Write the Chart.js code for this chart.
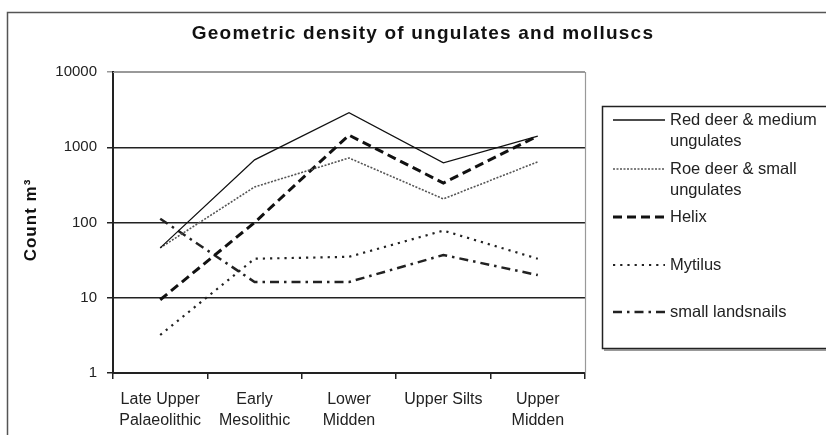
<!DOCTYPE html>
<html>
<head>
<meta charset="utf-8">
<script src="https://cdn.jsdelivr.net/npm/chart.js@4.4.1/dist/chart.umd.min.js"></script>
<style>
  html, body { margin: 0; padding: 0; background: #fff; }
  #wrap { width: 826px; height: 435px; position: relative; }
</style>
</head>
<body>
<div id="wrap"><canvas id="chart" width="826" height="435"></canvas></div>
<script>
// Data (log scale counts per m3)
const categories = [
  ["Late Upper", "Palaeolithic"],
  ["Early", "Mesolithic"],
  ["Lower", "Midden"],
  ["Upper Silts"],
  ["Upper", "Midden"]
];
const redDeer = [46, 680, 2880, 620, 1410];
const roeDeer = [46, 297, 720, 206, 640];
const helix = [9.4, 100, 1450, 335, 1410];
const mytilus = [3.2, 33, 35, 78, 33];
const landsnails = [112, 16.2, 16.2, 37, 20];
const yTicks = [1, 10, 100, 1000, 10000];

const seriesNames = [
  ["Red deer & medium", "ungulates"],
  ["Roe deer & small", "ungulates"],
  ["Helix"],
  ["Mytilus"],
  ["small landsnails"]
];
const legendY = [120, 169, 217, 265, 312];

const FONT = "'Liberation Sans', Arial, sans-serif";

// frame, title, y title, plot border and legend
const decorations = {
  id: "decorations",
  beforeDraw(chart) {
    const ctx = chart.ctx;
    ctx.save();
    ctx.fillStyle = "#fff";
    ctx.fillRect(0, 0, chart.width, chart.height);
    ctx.strokeStyle = "#555";
    ctx.lineWidth = 1.5;
    ctx.strokeRect(7.5, 12.5, 840, 440);
    ctx.restore();
  },
  afterDraw(chart) {
    const ctx = chart.ctx;
    const a = chart.chartArea;
    ctx.save();
    // plot area border (top/right)
    ctx.strokeStyle = "#999";
    ctx.lineWidth = 1.2;
    ctx.beginPath();
    ctx.moveTo(a.left, a.top + 0.5);
    ctx.lineTo(a.right + 0.5, a.top + 0.5);
    ctx.lineTo(a.right + 0.5, a.bottom);
    ctx.stroke();

    // title
    ctx.fillStyle = "#111";
    ctx.font = "bold 19px " + FONT;
    ctx.letterSpacing = "1.2px";
    ctx.textAlign = "center";
    ctx.textBaseline = "middle";
    ctx.fillText("Geometric density of ungulates and molluscs", 423, 34);

    // y axis title
    ctx.save();
    ctx.translate(31, 220);
    ctx.rotate(-Math.PI / 2);
    ctx.font = "bold 17px " + FONT;
    ctx.letterSpacing = "1px";
    ctx.fillText("Count m³", 0, 0);
    ctx.restore();
    ctx.letterSpacing = "0px";

    // legend box
    ctx.strokeStyle = "#222";
    ctx.lineWidth = 1.5;
    ctx.strokeRect(602.5, 106.5, 240, 242);
    ctx.beginPath();
    ctx.lineWidth = 1.5;
    ctx.strokeStyle = "#777";
    ctx.moveTo(604, 350);
    ctx.lineTo(830, 350);
    ctx.stroke();

    ctx.font = "16.5px " + FONT;
    ctx.textAlign = "left";
    chart.data.datasets.forEach((ds, i) => {
      const y = legendY[i];
      ctx.save();
      ctx.strokeStyle = ds.borderColor;
      ctx.lineWidth = ds.borderWidth;
      ctx.setLineDash(ds.borderDash || []);
      ctx.beginPath();
      ctx.moveTo(613, y);
      ctx.lineTo(665, y);
      ctx.stroke();
      ctx.restore();
      ctx.fillStyle = "#222";
      seriesNames[i].forEach((t, k) => ctx.fillText(t, 670, y + k * 21));
    });
    ctx.restore();
  }
};

const ctx = document.getElementById("chart").getContext("2d");
new Chart(ctx, {
  type: "line",
  data: {
    labels: categories,
    datasets: [
      { label: "Red deer & medium ungulates", data: redDeer, borderColor: "#111", borderWidth: 1.3 },
      { label: "Roe deer & small ungulates", data: roeDeer, borderColor: "#555", borderWidth: 1.6, borderDash: [2, 1.5] },
      { label: "Helix", data: helix, borderColor: "#111", borderWidth: 3, borderDash: [9, 5] },
      { label: "Mytilus", data: mytilus, borderColor: "#222", borderWidth: 2.2, borderDash: [2.2, 5] },
      { label: "small landsnails", data: landsnails, borderColor: "#222", borderWidth: 2.5, borderDash: [9, 5, 2.5, 5] }
    ]
  },
  options: {
    responsive: false,
    animation: false,
    layout: { padding: { left: 0, right: 241, top: 72, bottom: 0 } },
    elements: { point: { radius: 0 }, line: { tension: 0, fill: false } },
    plugins: { legend: { display: false }, tooltip: { enabled: false } },
    scales: {
      x: {
        offset: true,
        grid: { offset: true, drawOnChartArea: false, drawTicks: true, tickLength: 6, color: "#222", lineWidth: 1.5 },
        border: { color: "#222", width: 2 },
        ticks: { color: "#222", font: { family: FONT, size: 16, lineHeight: 1.3 }, padding: 10, maxRotation: 0, autoSkip: false },
        afterFit(s) { s.height = 62; }
      },
      y: {
        type: "logarithmic",
        min: 1,
        max: 10000,
        afterBuildTicks(s) { s.ticks = yTicks.map(v => ({ value: v })); },
        grid: {
          color: c => (c.tick && c.tick.value === 10000 ? "#999" : "#222"),
          lineWidth: 1.5,
          tickLength: 6
        },
        border: { color: "#222", width: 2 },
        ticks: { color: "#222", font: { family: FONT, size: 15 }, padding: 10, callback: v => String(v) },
        afterFit(s) { s.width = 113; }
      }
    }
  },
  plugins: [decorations]
});
</script>
</body>
</html>
